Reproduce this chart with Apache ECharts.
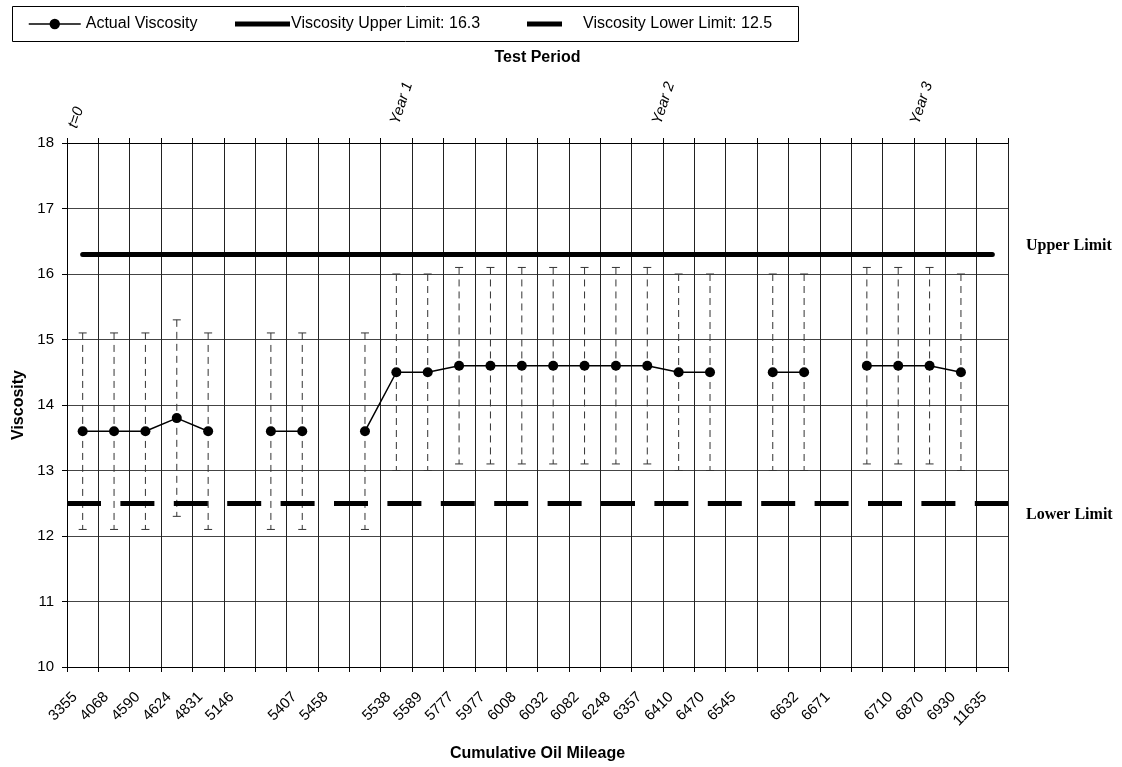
<!DOCTYPE html>
<html>
<head>
<meta charset="utf-8">
<title>Viscosity vs Cumulative Oil Mileage</title>
<script src="https://cdn.jsdelivr.net/npm/echarts@6/dist/echarts.min.js"></script>
<style>
  html, body { margin: 0; padding: 0; background: #fff; width: 1122px; height: 767px; overflow: hidden; }
  #chart { width: 1122px; height: 767px; }
</style>
</head>
<body>
<div id="chart"></div>
<script>
// Cumulative oil mileage at each sampling slot (blank slots have no label)
const mileage = ['3355', '4068', '4590', '4624', '4831', '5146', '', '5407', '5458', '',
  '5538', '5589', '5777', '5977', '6008', '6032', '6082', '6248', '6357', '6410',
  '6470', '6545', '', '6632', '6671', '', '6710', '6870', '6930', '11635'];

// Measured viscosity per slot
const viscosity = [13.6, 13.6, 13.6, 13.8, 13.6, null, 13.6, 13.6, null, 13.6,
  14.5, 14.5, 14.6, 14.6, 14.6, 14.6, 14.6, 14.6, 14.6, 14.5,
  14.5, null, 14.5, 14.5, null, 14.6, 14.6, 14.6, 14.5, null];

// Error range (low / high) per slot
const rangeLow = [12.1, 12.1, 12.1, 12.3, 12.1, null, 12.1, 12.1, null, 12.1,
  13.0, 13.0, 13.1, 13.1, 13.1, 13.1, 13.1, 13.1, 13.1, 13.0,
  13.0, null, 13.0, 13.0, null, 13.1, 13.1, 13.1, 13.0, null];
const rangeHigh = [15.1, 15.1, 15.1, 15.3, 15.1, null, 15.1, 15.1, null, 15.1,
  16.0, 16.0, 16.1, 16.1, 16.1, 16.1, 16.1, 16.1, 16.1, 16.0,
  16.0, null, 16.0, 16.0, null, 16.1, 16.1, 16.1, 16.0, null];

// Specification limits
const UPPER_LIMIT = 16.3;
const LOWER_LIMIT = 12.5;

// Test period markers along the top
const periodLabels = ['t=0', 'Year 1', 'Year 2', 'Year 3'];

const SANS = '"Liberation Sans", Arial, sans-serif';
const SERIF = '"Liberation Serif", "Times New Roman", serif';

const rangeData = [];
mileage.forEach(function (m, i) {
  if (rangeLow[i] != null && rangeHigh[i] != null) {
    rangeData.push([i, rangeLow[i], rangeHigh[i]]);
  }
});

const chart = echarts.init(document.getElementById('chart'), null, { renderer: 'canvas', width: 1122, height: 767 });

// anchor (bottom of the rotated text) for each period marker
const periodPos = [[80, 130], [402, 126], [664, 126], [922, 126]];

const option = {
  animation: false,
  backgroundColor: '#fff',
  textStyle: { fontFamily: SANS },
  grid: { left: 67, right: 114, top: 143, bottom: 99, containLabel: false },
  legend: [
    {
      data: ['Actual Viscosity'],
      left: 28, top: 16, padding: 0,
      itemWidth: 52, itemHeight: 13,
      lineStyle: { width: 1.5, color: '#000' },
      itemStyle: { color: '#000' },
      textStyle: { fontFamily: SANS, fontSize: 16, color: '#000' },
      selectedMode: false
    },
    {
      data: ['Viscosity Upper Limit: 16.3'],
      left: 235, top: 16, padding: 0,
      icon: 'rect', itemWidth: 55, itemHeight: 5,
      itemStyle: { color: '#000' },
      textStyle: { fontFamily: SANS, fontSize: 16, color: '#000', padding: [0, 0, 0, -4] },
      selectedMode: false
    },
    {
      data: ['Viscosity Lower Limit: 12.5'],
      left: 527, top: 16, padding: 0,
      icon: 'rect', itemWidth: 35, itemHeight: 5,
      itemStyle: { color: '#000' },
      textStyle: { fontFamily: SANS, fontSize: 16, color: '#000', padding: [0, 0, 0, 16] },
      selectedMode: false
    }
  ],
  xAxis: [
    {
      type: 'category',
      data: mileage,
      position: 'bottom',
      boundaryGap: true,
      axisLine: { lineStyle: { color: '#000', width: 1 } },
      axisTick: { show: true, interval: 0, length: 5, lineStyle: { color: '#000' } },
      axisLabel: { interval: 0, rotate: 45, margin: 20, padding: [0, 11, 0, 0], fontSize: 15, color: '#000', fontFamily: SANS },
      splitLine: { show: true, interval: 0, lineStyle: { color: '#222', width: 1 } },
      name: 'Cumulative Oil Mileage',
      nameLocation: 'middle',
      nameGap: 79,
      nameTextStyle: { fontFamily: SANS, fontSize: 16, fontWeight: 'bold', color: '#000' }
    },
    {
      type: 'category',
      data: mileage,
      position: 'top',
      boundaryGap: true,
      axisLine: { lineStyle: { color: '#000', width: 1 } },
      axisTick: { show: true, interval: 0, length: 5, lineStyle: { color: '#000' } },
      axisLabel: { show: false },
      splitLine: { show: false },
      name: 'Test Period',
      nameLocation: 'middle',
      nameGap: 77,
      nameTextStyle: { fontFamily: SANS, fontSize: 16, fontWeight: 'bold', color: '#000' }
    }
  ],
  yAxis: {
    type: 'value',
    min: 10, max: 18, interval: 1,
    axisLine: { show: true, lineStyle: { color: '#000', width: 1 } },
    axisTick: { show: true, length: 5, lineStyle: { color: '#000' } },
    axisLabel: { margin: 13, fontSize: 15, color: '#000', fontFamily: SANS },
    splitLine: { show: true, lineStyle: { color: '#444', width: 1 } },
    name: 'Viscosity',
    nameLocation: 'middle',
    nameGap: 38,
    nameTextStyle: { fontFamily: SANS, fontSize: 16, fontWeight: 'bold', color: '#000' }
  },
  series: [
    {
      name: 'Error range',
      type: 'custom',
      xAxisIndex: 0,
      data: rangeData,
      encode: { x: 0, y: [1, 2] },
      silent: true,
      z: 2,
      renderItem: function (params, api) {
        const idx = api.value(0);
        const lo = api.coord([idx, api.value(1)]);
        const hi = api.coord([idx, api.value(2)]);
        const cap = 4;
        const stroke = '#333';
        return {
          type: 'group',
          children: [
            { type: 'line', shape: { x1: hi[0], y1: hi[1], x2: lo[0], y2: lo[1] },
              style: { stroke: stroke, lineWidth: 1, lineDash: [7, 5] } },
            { type: 'line', shape: { x1: lo[0] - cap, y1: lo[1], x2: lo[0] + cap, y2: lo[1] },
              style: { stroke: stroke, lineWidth: 1 } },
            { type: 'line', shape: { x1: hi[0] - cap, y1: hi[1], x2: hi[0] + cap, y2: hi[1] },
              style: { stroke: stroke, lineWidth: 1 } }
          ]
        };
      }
    },
    {
      name: 'Viscosity Upper Limit: 16.3',
      type: 'line',
      data: [],
      color: '#000',
      itemStyle: { color: '#000' },
      lineStyle: { color: '#000', width: 5 },
      z: 3,
      markLine: {
        silent: true,
        symbol: ['none', 'none'],
        label: { show: false },
        lineStyle: { color: '#000', width: 5, type: 'solid', cap: 'round' },
        emphasis: { disabled: true },
        data: [[{ coord: [0, UPPER_LIMIT] }, { coord: [mileage.length - 1, UPPER_LIMIT] }]]
      }
    },
    {
      name: 'Viscosity Lower Limit: 12.5',
      type: 'line',
      data: [],
      color: '#000',
      itemStyle: { color: '#000' },
      lineStyle: { color: '#000', width: 5 },
      z: 3,
      markLine: {
        silent: true,
        symbol: ['none', 'none'],
        label: { show: false },
        lineStyle: { color: '#000', width: 5, type: [34, 19.4], cap: 'butt' },
        emphasis: { disabled: true },
        data: [{ yAxis: LOWER_LIMIT }]
      }
    },
    {
      name: 'Actual Viscosity',
      type: 'line',
      data: viscosity,
      connectNulls: false,
      color: '#000',
      symbol: 'circle',
      symbolSize: 10,
      itemStyle: { color: '#000' },
      lineStyle: { color: '#000', width: 1.5 },
      z: 4
    }
  ],
  graphic: [
    {
      type: 'rect', left: 10, top: 4, silent: true,
      shape: { width: 786, height: 35 },
      style: { fill: 'none', stroke: '#000', lineWidth: 1 }
    },
    {
      type: 'text', left: 1026, top: 238, silent: true,
      style: { text: 'Upper Limit', font: 'bold 16px ' + SERIF, fill: '#000' }
    },
    {
      type: 'text', left: 1026, top: 507, silent: true,
      style: { text: 'Lower Limit', font: 'bold 16px ' + SERIF, fill: '#000' }
    }
  ].concat(periodLabels.map(function (t, i) {
    return {
      type: 'text', x: periodPos[i][0], y: periodPos[i][1], silent: true,
      rotation: 72 * Math.PI / 180,
      style: { text: t, font: 'italic 15px ' + SANS, fill: '#000', textAlign: 'left', textVerticalAlign: 'bottom' }
    };
  }))
};

chart.setOption(option);
</script>
</body>
</html>
